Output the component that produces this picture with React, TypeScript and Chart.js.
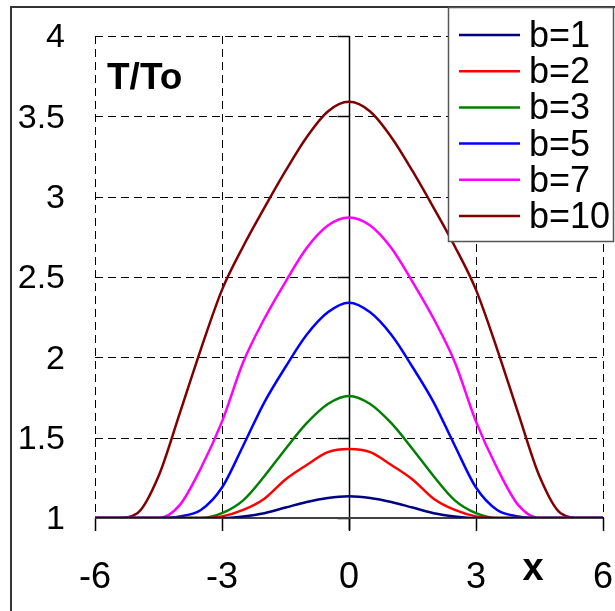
import React, { useEffect, useRef } from "react";
import { Chart, registerables } from "chart.js";

Chart.register(...registerables);

const xValues = [-6, -5.5, -5, -4.5, -4, -3.5, -3, -2.5, -2, -1.5, -1, -0.5, 0, 0.5, 1, 1.5, 2, 2.5, 3, 3.5, 4, 4.5, 5, 5.5, 6];

const seriesLabels = ["b=1", "b=2", "b=3", "b=5", "b=7", "b=10"];
const seriesColors = ["#000080", "#FF0000", "#008000", "#0000FF", "#FF00FF", "#800000"];

const b1 = [1, 1, 1, 1, 1, 1, 1, 1.01, 1.03, 1.065, 1.1, 1.125, 1.135, 1.125, 1.1, 1.065, 1.03, 1.01, 1, 1, 1, 1, 1, 1, 1];
const b2 = [1, 1, 1, 1, 1, 1, 1.01, 1.05, 1.12, 1.24, 1.33, 1.41, 1.43, 1.41, 1.33, 1.24, 1.12, 1.05, 1.01, 1, 1, 1, 1, 1, 1];
const b3 = [1, 1, 1, 1, 1, 1, 1.03, 1.11, 1.26, 1.43, 1.59, 1.71, 1.76, 1.71, 1.59, 1.43, 1.26, 1.11, 1.03, 1, 1, 1, 1, 1, 1];
const b5 = [1, 1, 1, 1, 1.01, 1.05, 1.19, 1.45, 1.72, 1.94, 2.14, 2.28, 2.34, 2.28, 2.14, 1.94, 1.72, 1.45, 1.19, 1.05, 1.01, 1, 1, 1, 1];
const b7 = [1, 1, 1, 1, 1.08, 1.31, 1.6, 1.97, 2.24, 2.47, 2.68, 2.82, 2.87, 2.82, 2.68, 2.47, 2.24, 1.97, 1.6, 1.31, 1.08, 1, 1, 1, 1];
const b10 = [1, 1, 1.03, 1.26, 1.65, 2.05, 2.42, 2.69, 2.93, 3.16, 3.37, 3.53, 3.59, 3.53, 3.37, 3.16, 2.93, 2.69, 2.42, 2.05, 1.65, 1.26, 1.03, 1, 1];

const seriesValues = [b1, b2, b3, b5, b7, b10];

const xTickValues = [-6, -3, 0, 3, 6];
const xTickLabels = ["-6", "-3", "0", "3", "6"];
const yTickValues = [1, 1.5, 2, 2.5, 3, 3.5, 4];
const yTickLabels = ["1", "1.5", "2", "2.5", "3", "3.5", "4"];

const yAxisTitle = "T/To";
const xAxisTitle = "x";

const FONT = "'Liberation Sans', Arial, sans-serif";

const decorPlugin = {
  id: "decor",
  beforeDatasetsDraw(chart: any) {
    const ctx = chart.ctx;
    const xs = chart.scales.x;
    const ys = chart.scales.y;
    const top = ys.getPixelForValue(4);
    const bottom = ys.getPixelForValue(1);
    const left = xs.getPixelForValue(-6);
    const right = xs.getPixelForValue(6);
    ctx.save();
    // outer frame
    ctx.strokeStyle = "#333333";
    ctx.lineWidth = 2;
    ctx.beginPath();
    ctx.moveTo(11, 611);
    ctx.lineTo(11, 7);
    ctx.lineTo(615, 7);
    ctx.stroke();
    // dashed grid
    ctx.strokeStyle = "#000000";
    ctx.lineWidth = 1;
    ctx.setLineDash([8, 5]);
    for (const v of xTickValues) {
      if (v === 0) continue;
      const px = Math.round(xs.getPixelForValue(v)) + 0.5;
      ctx.beginPath();
      ctx.moveTo(px, top);
      ctx.lineTo(px, bottom);
      ctx.stroke();
    }
    for (const v of yTickValues) {
      if (v === 1) continue;
      const py = Math.round(ys.getPixelForValue(v)) + 0.5;
      ctx.beginPath();
      ctx.moveTo(left, py);
      ctx.lineTo(right, py);
      ctx.stroke();
    }
    ctx.setLineDash([]);
    // y axis at x=0
    const x0 = Math.round(xs.getPixelForValue(0)) + 0.5;
    ctx.strokeStyle = "#000000";
    ctx.lineWidth = 1.5;
    ctx.beginPath();
    ctx.moveTo(x0, top);
    ctx.lineTo(x0, bottom + 12);
    ctx.stroke();
    for (const v of yTickValues) {
      const py = Math.round(ys.getPixelForValue(v)) + 0.5;
      ctx.beginPath();
      ctx.moveTo(x0 - 12, py);
      ctx.lineTo(x0, py);
      ctx.stroke();
    }
    // x ticks
    for (const v of xTickValues) {
      const px = Math.round(xs.getPixelForValue(v)) + 0.5;
      ctx.beginPath();
      ctx.moveTo(px, bottom);
      ctx.lineTo(px, bottom + 13);
      ctx.stroke();
    }
    // x axis
    ctx.strokeStyle = "#404040";
    ctx.lineWidth = 2;
    ctx.beginPath();
    ctx.moveTo(left, bottom);
    ctx.lineTo(right, bottom);
    ctx.stroke();
    // tick labels
    ctx.fillStyle = "#000000";
    ctx.font = `34px ${FONT}`;
    ctx.textAlign = "right";
    ctx.textBaseline = "middle";
    yTickValues.forEach((v, i) => {
      ctx.fillText(yTickLabels[i], 65, ys.getPixelForValue(v) + 2);
    });
    ctx.font = `36px ${FONT}`;
    ctx.textAlign = "center";
    xTickValues.forEach((v, i) => {
      ctx.fillText(xTickLabels[i], xs.getPixelForValue(v), 578);
    });
    // titles
    ctx.font = `bold 37px ${FONT}`;
    ctx.textAlign = "left";
    ctx.fillText(yAxisTitle, 107, 79);
    ctx.font = `bold 38px ${FONT}`;
    ctx.textAlign = "center";
    ctx.fillText(xAxisTitle, 533, 570);
    ctx.restore();
  },
  afterDraw(chart: any) {
    const ctx = chart.ctx;
    ctx.save();
    ctx.fillStyle = "#ffffff";
    ctx.fillRect(448, 7, 166, 235);
    ctx.strokeStyle = "#555555";
    ctx.lineWidth = 1.5;
    ctx.strokeRect(448.5, 7.5, 165, 234);
    ctx.font = `36px ${FONT}`;
    ctx.textAlign = "left";
    ctx.textBaseline = "middle";
    chart.data.datasets.forEach((ds: any, i: number) => {
      const cy = 35 + i * 36.2;
      ctx.strokeStyle = ds.borderColor;
      ctx.lineWidth = 2.5;
      ctx.beginPath();
      ctx.moveTo(459, cy);
      ctx.lineTo(520, cy);
      ctx.stroke();
      ctx.fillStyle = "#000000";
      ctx.fillText(ds.label, 529, cy + 2);
    });
    ctx.restore();
  },
};

export default function App() {
  const ref = useRef<HTMLCanvasElement>(null);
  useEffect(() => {
    document.body.style.margin = "0";
    const canvas = ref.current!;
    const chart = new Chart(canvas, {
      type: "line",
      data: {
        datasets: seriesValues.map((vals, i) => ({
          label: seriesLabels[i],
          data: xValues.map((x, j) => ({ x, y: vals[j] })),
          borderColor: seriesColors[i],
          backgroundColor: seriesColors[i],
          borderWidth: 2.5,
          pointRadius: 0,
          cubicInterpolationMode: "monotone" as const,
          fill: false,
        })),
      },
      options: {
        animation: false,
        responsive: false,
        devicePixelRatio: 1,
        layout: { padding: { left: 95, right: 12, top: 36, bottom: 93 } },
        plugins: { legend: { display: false }, tooltip: { enabled: false } },
        scales: {
          x: { type: "linear", min: -6, max: 6, display: false },
          y: { type: "linear", min: 1, max: 4, display: false },
        },
      },
      plugins: [decorPlugin],
    });
    return () => chart.destroy();
  }, []);
  return <canvas ref={ref} width={615} height={611} style={{ display: "block" }} />;
}
